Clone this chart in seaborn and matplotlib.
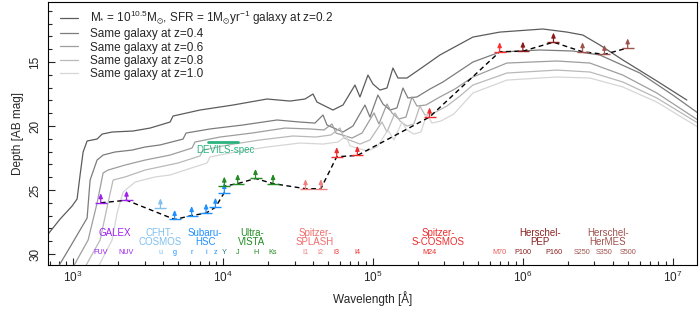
import matplotlib
matplotlib.use('Agg')
import matplotlib.pyplot as plt
import seaborn as sns
import pandas as pd
import numpy as np
from matplotlib.ticker import MultipleLocator, FixedLocator

# ---- model galaxy SEDs (observed wavelength [A], depth [AB mag]) ----
wl_z02 = [681, 819, 985, 1063, 1113, 1166, 1240, 1445, 1561, 1820, 2512, 3261, 4434, 4642,
          7025, 11660, 19650, 27980, 35220, 39810, 42340, 54090, 63100, 75860, 81910, 92620,
          1.0e5, 1.113e5, 1.24e5, 1.359e5, 1.468e5, 1.685e5, 2.057e5, 2.797e5, 4.642e5,
          7.03e5, 1.359e6, 1.965e6, 2.51e6, 3.26e6, 4.64e6, 7.82e6, 1.24e7]
mag_z02 = [28.44, 27.27, 26.25, 25.70, 23.83, 22.03, 21.17, 21.02, 20.63, 20.47, 20.39, 20.16,
           19.69, 19.22, 18.75, 18.36, 17.89, 18.05, 17.89, 17.50, 18.13, 18.75, 18.36, 16.80,
           17.73, 16.02, 16.72, 17.19, 17.03, 15.47, 16.25, 16.25, 15.55, 14.45, 13.05,
           12.66, 12.42, 12.66, 12.89, 13.67, 14.84, 16.48, 17.97]

wl_z04 = [759, 955, 1240, 1298, 1445, 1585, 1905, 2473, 3020, 3802, 5412, 5666, 8192, 13590,
          22910, 32620, 41030, 46420, 49340, 63100, 73560, 88450, 95500, 1.079e5, 1.166e5,
          1.298e5, 1.445e5, 1.585e5, 1.711e5, 1.965e5, 2.399e5, 2.929e5, 4.642e5, 7.03e5,
          1.298e6, 2.154e6, 3.26e6, 6.03e6, 1.0e7, 1.47e7]
mag_z04 = [31.41, 29.45, 27.19, 24.22, 22.66, 22.27, 22.03, 21.88, 21.64, 21.48, 21.02, 20.55,
           20.23, 19.92, 19.53, 19.69, 19.77, 19.14, 19.92, 20.47, 20.00, 18.36, 19.30, 17.58,
           18.28, 18.75, 18.59, 17.03, 17.81, 17.73, 17.11, 16.56, 15.00, 14.22,
           14.06, 14.14, 14.45, 15.86, 17.58, 18.98]

wl_z06 = [1000, 1259, 1445, 1585, 1711, 2222, 3020, 4434, 6209, 6504, 9550, 15600, 25880,
          38020, 47100, 53300, 56650, 72440, 84530, 1.016e5, 1.096e5, 1.24e5, 1.338e5, 1.49e5,
          1.66e5, 1.82e5, 1.965e5, 2.254e5, 2.797e5, 3.52e5, 4.642e5, 7.82e5, 1.686e6,
          2.8e6, 4.64e6, 7.82e6, 1.47e7]
mag_z06 = [31.02, 28.91, 26.02, 23.67, 23.44, 23.05, 22.66, 22.27, 21.72, 21.25, 20.86, 20.55,
           20.16, 20.23, 20.31, 19.84, 20.55, 20.94, 20.55, 18.98, 19.84, 18.28, 18.98, 19.45,
           19.30, 17.73, 18.44, 18.36, 17.73, 17.11, 16.17, 15.08, 14.92,
           15.08, 16.02, 17.42, 19.53]

wl_z08 = [1202, 1514, 1686, 1848, 2222, 3020, 5012, 7025, 7356, 10790, 17650, 29290, 41690,
          52480, 60260, 64120, 81910, 95500, 1.148e5, 1.24e5, 1.402e5, 1.514e5, 1.686e5,
          1.875e5, 2.056e5, 2.222e5, 2.553e5, 3.112e5, 3.802e5, 4.642e5, 7.82e5, 1.686e6,
          2.8e6, 4.64e6, 7.82e6, 1.47e7]
mag_z08 = [31.02, 28.91, 26.33, 24.22, 23.98, 23.44, 22.89, 22.34, 21.88, 21.48, 21.09, 20.78,
           20.86, 20.70, 20.16, 20.94, 21.41, 21.09, 19.69, 20.47, 18.98, 19.61, 20.00,
           19.84, 18.44, 19.14, 18.98, 18.44, 17.66, 16.80, 15.86, 15.63,
           15.78, 16.56, 17.81, 19.77]

wl_z10 = [1468, 1820, 1965, 2154, 2590, 3521, 4434, 5581, 7822, 8192, 12020, 19650, 32620,
          46420, 58480, 66070, 70250, 91200, 1.064e5, 1.259e5, 1.38e5, 1.561e5, 1.686e5,
          1.875e5, 2.089e5, 2.291e5, 2.473e5, 2.84e5, 3.467e5, 4.642e5, 7.82e5, 1.686e6,
          2.8e6, 4.64e6, 7.82e6, 1.47e7]
mag_z10 = [31.02, 28.91, 26.80, 25.16, 24.38, 23.98, 23.83, 23.44, 22.89, 22.42, 22.03, 21.64,
           21.33, 21.41, 21.25, 20.78, 21.56, 21.95, 21.64, 20.31, 21.09, 19.69, 20.31,
           20.63, 20.47, 19.06, 19.77, 19.61, 19.06, 17.42, 16.41, 16.17,
           16.25, 16.95, 18.13, 20.08]

sed_labels = [r'M$_{*}$ = 10$^{10.5}$M$_{\odot}$, SFR = 1M$_{\odot}$yr$^{-1}$ galaxy at z=0.2',
              'Same galaxy at z=0.4', 'Same galaxy at z=0.6',
              'Same galaxy at z=0.8', 'Same galaxy at z=1.0']
sed_colors = ['#5c5c5c', '#7c7c7c', '#9e9e9e', '#b9b9b9', '#d6d6d6']

# ---- survey depths ----
bands = ['FUV', 'NUV', 'u', 'g', 'r', 'i', 'z', 'Y', 'Y', 'J', 'H', 'Ks',
         'I1', 'I2', 'I3', 'I4', 'M24', 'M70', 'P100', 'P160', 'S250', 'S350', 'S500']
band_wl = [1528, 2271, 3823, 4754, 6175, 7711, 8898, 10200, 10200, 12525, 16466, 21557,
           35500, 44930, 57310, 78720, 2.384e5, 7.0e5, 1.0e6, 1.6e6, 2.5e6, 3.5e6, 5.0e6]
band_depth = [26.0, 25.8, 26.4, 27.3, 27.0, 26.8, 26.35, 25.2, 24.7, 24.5, 24.1, 24.5,
              24.9, 24.9, 22.4, 22.3, 19.3, 14.2, 14.15, 13.45, 14.2, 14.4, 13.9]
band_color = ['#a020f0', '#a020f0', '#7ec0ee', '#1e90ff', '#1e90ff', '#1e90ff', '#1e90ff',
              '#1e90ff', '#228b22', '#228b22', '#228b22', '#228b22',
              '#f08080', '#f08080', '#ee2c2c', '#ee2c2c', '#ee2c2c', '#ff3030',
              '#8b1a1a', '#8b1a1a', '#a0524d', '#a0524d', '#a0524d']
# filter names under the axis (HSC Y and VISTA Y share one teal label)
tick_bands = ['FUV', 'NUV', 'u', 'g', 'r', 'i', 'z', 'Y', 'J', 'H', 'Ks',
              'I1', 'I2', 'I3', 'I4', 'M24', 'M70', 'P100', 'P160', 'S250', 'S350', 'S500']
tick_color = ['#a020f0', '#a020f0', '#7ec0ee', '#1e90ff', '#1e90ff', '#1e90ff', '#1e90ff',
              '#1b7f73', '#228b22', '#228b22', '#228b22',
              '#f08080', '#f08080', '#ee2c2c', '#ee2c2c', '#ee2c2c', '#f05a5a',
              '#8b1a1a', '#8b1a1a', '#a0524d', '#a0524d', '#a0524d']
# bands joined by the dashed line (u is left off)
line_bands = ['FUV', 'NUV', 'g', 'r', 'i', 'z', 'Y', 'J', 'H', 'Ks', 'I1', 'I2', 'I3',
              'I4', 'M24', 'M70', 'P100', 'P160', 'S250', 'S350', 'S500']

surveys = ['GALEX', 'CFHT-\nCOSMOS', 'Subaru-\nHSC', 'Ultra-\nVISTA', 'Spitzer-\nSPLASH',
           'Spitzer-\nS-COSMOS', 'Herschel-\nPEP', 'Herschel-\nHerMES']
survey_wl = [1905, 3802, 7586, 15600, 41030, 2.71e5, 1.3e6, 3.69e6]
survey_color = ['#a020f0', '#7ec0ee', '#1e90ff', '#228b22', '#f06e6e', '#ee2c2c',
                '#8b2323', '#a0524d']

devils_wl = [7940, 12600]
devils_mag = 21.27

sns.set_style('ticks')
plt.rcParams['font.family'] = ['Liberation Sans', 'DejaVu Sans']
plt.rcParams['mathtext.fontset'] = 'custom'
plt.rcParams['mathtext.rm'] = 'Liberation Sans'
plt.rcParams['mathtext.it'] = 'Liberation Sans:italic'
plt.rcParams['mathtext.default'] = 'regular'

fig = plt.figure(figsize=(7, 3.15), dpi=100)
ax = fig.add_axes([48/700, 1-265/315, 649/700, 263/315])

seds = [(wl_z02, mag_z02), (wl_z04, mag_z04), (wl_z06, mag_z06), (wl_z08, mag_z08),
        (wl_z10, mag_z10)]
for (wl, mg), lab, col in zip(seds, sed_labels, sed_colors):
    sns.lineplot(x=wl, y=mg, sort=False, estimator=None, color=col, lw=0.9,
                 label=lab, ax=ax)

dep = pd.DataFrame({'band': bands, 'wl': band_wl, 'depth': band_depth, 'col': band_color})
line_df = dep[dep['band'].isin(line_bands)]
sns.lineplot(data=line_df, x='wl', y='depth', sort=False, estimator=None, color='black',
             lw=1.0, linestyle=(0, (3.5, 2.5)), ax=ax, zorder=4)

for _, r in dep.iterrows():
    ax.plot([r.wl], [r.depth], marker='_', ms=8, mew=1.0, color=r.col, zorder=5)
    ax.annotate('', xy=(r.wl, r.depth - 0.75), xytext=(r.wl, r.depth),
                arrowprops=dict(arrowstyle='-|>,head_length=0.28,head_width=0.12',
                                color=r.col, lw=0.9, shrinkA=0, shrinkB=0), zorder=5)

for b, c in zip(tick_bands, tick_color):
    w = dep.loc[dep['band'] == b, 'wl'].iloc[0]
    ax.text(w, 29.92, b, color=c, fontsize=5.2, ha='center', va='center')

for s, w, c in zip(surveys, survey_wl, survey_color):
    ax.text(w, 27.95, s, color=c, fontsize=7, ha='center', va='top', linespacing=0.9)

ax.plot(devils_wl, [devils_mag, devils_mag], color='#2bb37e', lw=2)
ax.text(np.sqrt(devils_wl[0]*devils_wl[1]) * 1.03, devils_mag + 0.6, 'DEVILS-spec',
        color='#2bb37e', fontsize=7, ha='center', va='center')

ax.set_xscale('log')
ax.set_xlim(680, 1.45e7)
ax.set_ylim(30.86, 10.31)
ax.yaxis.set_major_locator(FixedLocator([15, 20, 25, 30]))
ax.yaxis.set_minor_locator(MultipleLocator(1))
ax.tick_params(which='both', direction='in', top=False, right=False, labelsize=8.5)
ax.tick_params(which='major', length=5, width=0.8)
ax.tick_params(which='minor', length=3, width=0.8)
ax.tick_params(axis='y', pad=5)
for t in ax.get_yticklabels():
    t.set_rotation(90)
    t.set_va('center')
for sp in ax.spines.values():
    sp.set_linewidth(0.8)
    sp.set_color('black')

ax.set_xlabel('Wavelength [Å]', fontsize=8.5, labelpad=4)
ax.set_ylabel('Depth [AB mag]', fontsize=8.5, labelpad=4)

ax.legend(loc='upper left', bbox_to_anchor=(0.0185, 0.975), frameon=False, fontsize=8.5,
          borderpad=0, borderaxespad=0, handlelength=1.5, handletextpad=1.0,
          labelspacing=0.12)

fig.savefig('out.png', dpi=100)
